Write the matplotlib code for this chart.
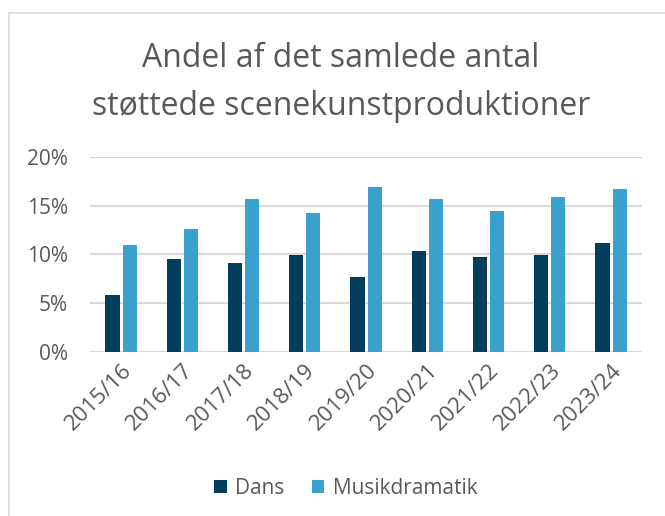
import numpy as np
import matplotlib
matplotlib.use("Agg")
import matplotlib.pyplot as plt
from matplotlib.patches import Rectangle
from matplotlib.ticker import FuncFormatter

seasons = ["2015/16", "2016/17", "2017/18", "2018/19", "2019/20",
           "2020/21", "2021/22", "2022/23", "2023/24"]
dans = [5.8, 9.5, 9.1, 9.95, 7.7, 10.35, 9.75, 9.95, 11.15]
musikdramatik = [10.95, 12.6, 15.7, 14.25, 16.9, 15.7, 14.45, 15.9, 16.7]

plt.rcParams['font.family'] = ['Open Sans', 'DejaVu Sans']
text_col = "#595959"

fig = plt.figure(figsize=(6.65, 5.16), dpi=100)
ax = fig.add_axes([0.136, 0.318, 0.829, 0.378])

x = np.arange(len(seasons))
w = 0.23
ax.bar(x - 0.14, dans, width=w, color="#023e5b", label="Dans", zorder=3)
ax.bar(x + 0.14, musikdramatik, width=w, color="#39a1cc", label="Musikdramatik", zorder=3)

ax.set_xlim(-0.5, len(seasons) - 0.5)
ax.set_ylim(0, 20)
ax.set_yticks([0, 5, 10, 15, 20])
ax.yaxis.set_major_formatter(FuncFormatter(lambda v, p: f"{v:.0f}%"))
ax.grid(axis="y", color="#d9d9d9", linewidth=1.5, zorder=0)
for s in ax.spines.values():
    s.set_visible(False)
ax.tick_params(axis="both", length=0, colors=text_col)
ax.tick_params(axis="y", labelsize=15, pad=16)
ax.tick_params(axis="x", labelsize=16, pad=6)
ax.set_xticks(x)
ax.set_xticklabels(seasons, rotation=45, ha="right", rotation_mode="anchor")

fig.text(0.513, 1 - 67 / 516, "Andel af det samlede antal",
         ha="center", va="baseline", fontsize=23, color=text_col)
fig.text(0.513, 1 - 115 / 516, "støttede scenekunstproduktioner",
         ha="center", va="baseline", fontsize=23, color=text_col)

leg = fig.legend(loc="center", bbox_to_anchor=(0.52, 0.054), ncol=2, frameon=False,
                 fontsize=15, handlelength=0.6, handleheight=0.6, columnspacing=1.3,
                 handletextpad=0.4)
for t in leg.get_texts():
    t.set_color(text_col)

fig.patches.append(Rectangle((9 / 665, -0.1), 1.2, 1 - 13 / 516 + 0.1, transform=fig.transFigure,
                             fill=False, edgecolor="#d9d9d9", linewidth=1.2))

fig.savefig("out.png", dpi=100)
